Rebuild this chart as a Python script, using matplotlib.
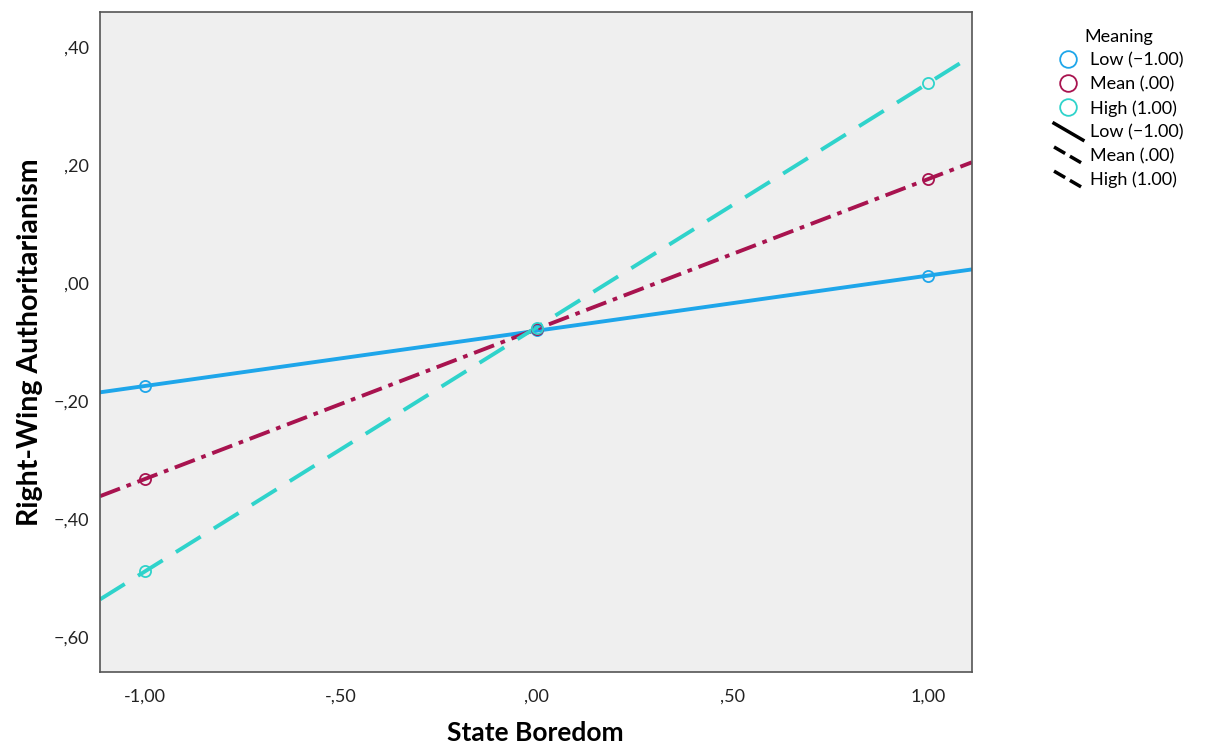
import matplotlib
matplotlib.use('Agg')
import matplotlib.pyplot as plt
import numpy as np
from matplotlib.lines import Line2D
from matplotlib.legend_handler import HandlerLine2D

plt.rcParams['font.family'] = ['Lato', 'DejaVu Sans']

# data
boredom = [-1.0, 0.0, 1.0]
rwa_low = [-0.175, -0.080, 0.012]
rwa_mean = [-0.332, -0.078, 0.176]
rwa_high = [-0.488, -0.076, 0.339]
group_names = ['Low (\u22121.00)', 'Mean (.00)', 'High (1.00)']
colors = ['#1ea6ea', '#a8134f', '#2fd3cb']
styles = ['-', (0, (5.5, 1.8, 1.2, 1.8)), (0, (7.5, 4))]

xticks = [-1.0, -0.5, 0.0, 0.5, 1.0]
xtick_labels = ['-1,00', '-,50', ',00', ',50', '1,00']
yticks = [-0.6, -0.4, -0.2, 0.0, 0.2, 0.4]
ytick_labels = ['\u2212,60', '\u2212,40', '\u2212,20', ',00', ',20', ',40']

xlim = (-1.115, 1.112)
ylim = (-0.659, 0.459)

fig = plt.figure(figsize=(12.1, 7.45), dpi=100)
ax = fig.add_axes([100/1210, 1-672/745, 872/1210, 660/745])
ax.set_facecolor('#efefef')

xs = np.array(xlim)
for vals, c, ls in zip([rwa_low, rwa_mean, rwa_high], colors, styles):
    slope, icpt = np.polyfit(boredom, vals, 1)
    ax.plot(xs, slope * xs + icpt, color=c, lw=2.8, linestyle=ls, zorder=2)
    ax.plot(boredom, vals, 'o', mfc='none', mec=c, ms=8, mew=1.3, zorder=3)

ax.set_xlim(xlim)
ax.set_ylim(ylim)
ax.set_xticks(xticks)
ax.set_xticklabels(xtick_labels)
ax.set_yticks(yticks)
ax.set_yticklabels(ytick_labels)
ax.tick_params(axis='x', length=0, labelsize=13, pad=12, colors='#222222')
ax.tick_params(axis='y', length=0, labelsize=13, pad=8, colors='#222222')
for s in ax.spines.values():
    s.set_color('#555555')
    s.set_linewidth(1.2)
fig.text(535/1210, 1-733/745, 'State Boredom', fontsize=19, fontweight='bold',
         ha='center', va='center')
fig.text(30/1210, 1-342/745, 'Right-Wing Authoritarianism', fontsize=20.5,
         fontweight='bold', rotation=90, ha='center', va='center')


class SlantHandler(HandlerLine2D):
    def create_artists(self, legend, orig_handle, xdescent, ydescent,
                       width, height, fontsize, trans):
        line = Line2D([0, width], [height + 1, -2],
                      color=orig_handle.get_color(),
                      linestyle=orig_handle.get_linestyle(),
                      lw=orig_handle.get_linewidth())
        line.set_transform(trans)
        return [line]


handles = []
for c in colors:
    handles.append(Line2D([], [], marker='o', ls='none', mfc='none', mec=c, ms=12, mew=1.3))
line_handles = []
for ls in [styles[0], (0, (3.5, 1.2, 0.6, 1.2)), (0, (3.5, 5, 1, 5))]:
    line_handles.append(Line2D([], [], color='black', lw=2.5, linestyle=ls))
hmap = {h: SlantHandler() for h in line_handles}
leg = fig.legend(handles + line_handles, group_names + group_names,
                 loc='upper left', bbox_to_anchor=(1045/1210, 1-20/745),
                 frameon=False, title='Meaning', fontsize=13, title_fontsize=13,
                 handlelength=1.6, handletextpad=0.4, labelspacing=0.42,
                 borderpad=0, handler_map=hmap)

fig.savefig('out.png', dpi=100)
